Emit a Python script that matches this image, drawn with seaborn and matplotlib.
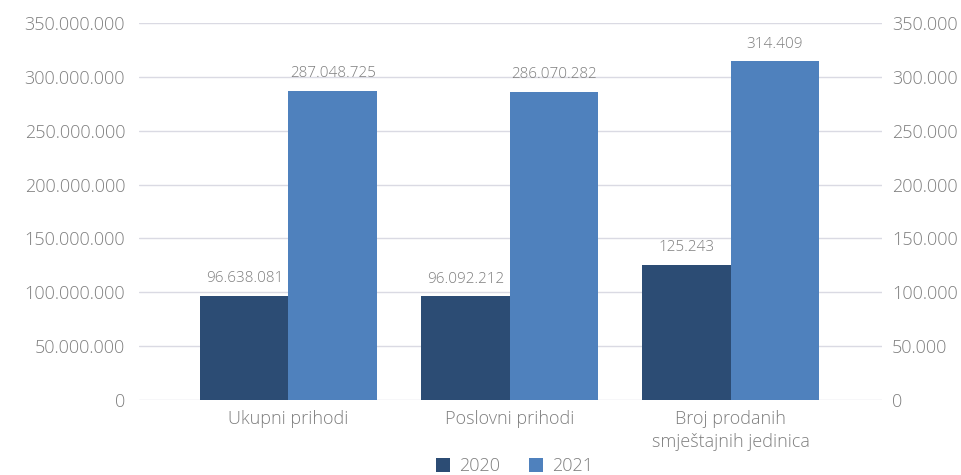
import pandas as pd
import matplotlib.pyplot as plt
import matplotlib.ticker as mticker
import seaborn as sns

# podaci
kategorije = ["Ukupni prihodi", "Poslovni prihodi", "Broj prodanih\nsmještajnih jedinica"]
godine = ["2020", "2021"]
vrijednosti_2020 = [96638081, 96092212, 125243]
vrijednosti_2021 = [287048725, 286070282, 314409]
lijeva_os = [True, True, False]  # zadnja kategorija ide na desnu os

boje = {"2020": "#2c4c74", "2021": "#4f81bd"}
siva = "#7f7f7f"

rows = []
for i, k in enumerate(kategorije):
    rows.append({"kategorija": k, "godina": "2020", "vrijednost": vrijednosti_2020[i], "lijevo": lijeva_os[i]})
    rows.append({"kategorija": k, "godina": "2021", "vrijednost": vrijednosti_2021[i], "lijevo": lijeva_os[i]})
df = pd.DataFrame(rows)

sns.set_style("white")
plt.rcParams["font.family"] = ["Open Sans", "DejaVu Sans"]
plt.rcParams["font.weight"] = "light"

fig = plt.figure(figsize=(9.62, 4.75), dpi=100)
ax = fig.add_axes([0.1445, 0.158, 0.7725, 0.7935])
ax2 = ax.twinx()


def tocke(v, pos=None):
    return f"{v:,.0f}".replace(",", ".")


sns.barplot(data=df[df["lijevo"]], x="kategorija", y="vrijednost", hue="godina",
            order=kategorije, hue_order=godine, palette=boje, errorbar=None,
            width=0.8, saturation=1, linewidth=0, ax=ax)
sns.barplot(data=df[~df["lijevo"]], x="kategorija", y="vrijednost", hue="godina",
            order=kategorije, hue_order=godine, palette=boje, errorbar=None,
            width=0.8, saturation=1, linewidth=0, ax=ax2, legend=False)

handles, labels = ax.get_legend_handles_labels()
ax.get_legend().remove()

for a in (ax, ax2):
    for c in a.containers:
        a.bar_label(c, fmt=tocke, padding=7, fontsize=11, color=siva)
    for s in a.spines.values():
        s.set_visible(False)
    a.tick_params(length=0, labelsize=13, labelcolor=siva)
    a.set_xlabel("")
    a.set_ylabel("")

ax.set_ylim(0, 350000000)
ax2.set_ylim(0, 350000)
ax.set_yticks(range(0, 350000001, 50000000))
ax2.set_yticks(range(0, 350001, 50000))
ax.yaxis.set_major_formatter(mticker.FuncFormatter(tocke))
ax2.yaxis.set_major_formatter(mticker.FuncFormatter(tocke))
ax.tick_params(axis="y", pad=10)
ax2.tick_params(axis="y", pad=7)
ax.tick_params(axis="x", pad=7)
for t in ax.get_xticklabels():
    t.set_linespacing(1.35)

ax.set_xlim(-0.676, 2.685)
ax2.set_xlim(-0.676, 2.685)

ax.grid(axis="y", color="#dadae3", linewidth=1)
ax.set_axisbelow(True)
ax2.grid(False)

fig.legend(handles, labels, loc="lower center", bbox_to_anchor=(0.535, -0.035), ncol=2,
           frameon=False, fontsize=13, handlelength=0.8, handleheight=0.8,
           handletextpad=0.5, columnspacing=1.6, labelcolor=siva)

fig.savefig("out.png", dpi=100)
